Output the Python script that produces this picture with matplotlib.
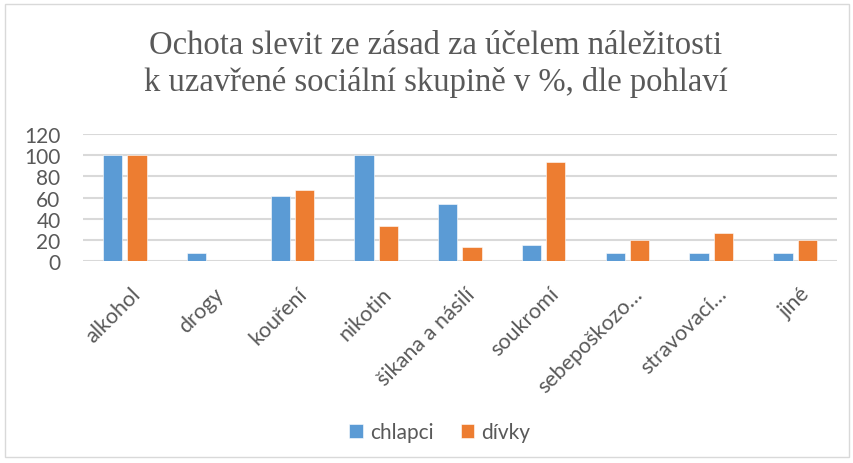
import numpy as np
import matplotlib
matplotlib.use("Agg")
import matplotlib.pyplot as plt
from matplotlib.patches import Rectangle
from matplotlib.transforms import ScaledTranslation

categories = ["alkohol", "drogy", "kouření", "nikotin", "šikana a násilí",
              "soukromí", "sebepoškozo…", "stravovací…", "jiné"]
chlapci = [100, 7.7, 61.5, 100, 53.8, 15.4, 7.7, 7.7, 7.7]
divky = [100, 0, 66.7, 33.3, 13.3, 93.3, 20, 26.7, 20]
yticks = [0, 20, 40, 60, 80, 100, 120]

title = ("Ochota slevit ze zásad za účelem náležitosti\n"
         "k uzavřené sociální skupině v %, dle pohlaví")

grey = "#595959"
blue = "#5B9BD5"
orange = "#ED7D31"

fig = plt.figure(figsize=(8.54, 4.64), dpi=100)
ax = fig.add_axes([0.097, 0.435, 0.883, 0.274])

x = np.arange(len(categories))
w = 0.23
ax.bar(x - 0.145, chlapci, w, color=blue, edgecolor="white", linewidth=0.4,
       label="chlapci", zorder=3)
ax.bar(x + 0.145, divky, w, color=orange, edgecolor="white", linewidth=0.4,
       label="dívky", zorder=3)

ax.set_xlim(-0.5, len(categories) - 0.5)
ax.set_ylim(0, 120)
ax.set_yticks(yticks)
ax.yaxis.grid(True, color="#D9D9D9", linewidth=1.5, zorder=0)
for s in ax.spines.values():
    s.set_visible(False)
ax.tick_params(length=0, colors=grey, labelsize=15)
ax.tick_params(axis="y", pad=16)
ax.tick_params(axis="x", pad=16)
ax.set_xticks(x)
ax.set_xticklabels(categories, rotation=45, ha="right", rotation_mode="anchor",
                   fontfamily="Lato", fontsize=15.5, color=grey)
shift = ScaledTranslation(5 / 100, 0, fig.dpi_scale_trans)
for lab in ax.get_xticklabels():
    lab.set_transform(lab.get_transform() + shift)
for lab in ax.get_yticklabels():
    lab.set_fontfamily("Lato")

fig.text(0.51, 0.862, title, ha="center", va="center", fontsize=23.5,
         fontfamily="Liberation Serif", color=grey, linespacing=1.25)

leg = fig.legend(loc="center", bbox_to_anchor=(0.515, 0.067), ncol=2,
                 frameon=False, handlelength=0.65, handleheight=0.65,
                 handletextpad=0.35, columnspacing=1.3,
                 prop={"family": "Lato", "size": 15})
for t in leg.get_texts():
    t.set_color(grey)

fig.patches.append(Rectangle((0.006, 0.012), 0.988, 0.978, transform=fig.transFigure,
                             fill=False, edgecolor="#D9D9D9", linewidth=1))

fig.savefig("out.png", dpi=100)
